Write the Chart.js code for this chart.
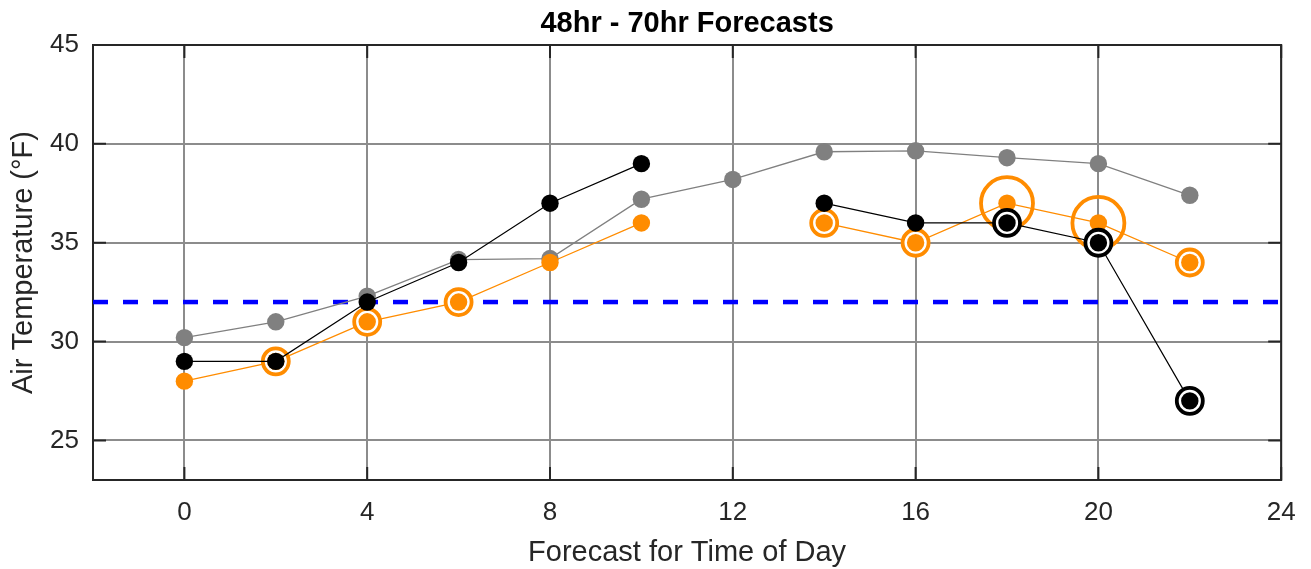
<!DOCTYPE html>
<html>
<head>
<meta charset="utf-8">
<script src="https://cdn.jsdelivr.net/npm/chart.js@4/dist/chart.umd.min.js"></script>
<style>
  html, body { margin: 0; padding: 0; background: #fff; }
  #wrap { width: 1311px; height: 569px; position: relative; }
</style>
</head>
<body>
<div id="wrap"><canvas id="c" width="1311" height="569"></canvas></div>
<script>
// ---------- data ----------
const hours = [0, 2, 4, 6, 8, 10, 12, 14, 16, 18, 20, 22];
const grayTemps = [30.2, 31.0, 32.3, 34.15, 34.2, 37.2, 38.2, 39.6, 39.65, 39.3, 39.0, 37.4];
const blackTemps = [29, 29, 32, 34, 37, 39, null, 37, 36, 36, 35, 27];
const orangeTemps = [28, 29, 31, 32, 34, 36, null, 36, 35, 37, 36, 34];
const orangeSmallRingHours = [2, 4, 6, 14, 16, 22];
const orangeLargeRingHours = [18, 20];
const blackRingHours = [18, 20, 22];
const freezingTemp = 32;
const xLimits = [-2, 24];
const yLimits = [23, 45];
const xTickValues = [0, 4, 8, 12, 16, 20, 24];
const yTickValues = [25, 30, 35, 40, 45];

const titleText = '48hr - 70hr Forecasts';
const xTitleText = 'Forecast for Time of Day';
const yTitleText = 'Air Temperature (\u00B0F)';

// ---------- helpers ----------
const series = (xs, ys) => xs.map((x, i) => ({ x: x, y: ys[i] }));
const ringPoints = (ringHours, ys) => ringHours.map(h => ({ x: h, y: ys[hours.indexOf(h)] }));

const FONT = "'Liberation Sans', Arial, Helvetica, sans-serif";
const AXIS_COLOR = '#262626';
const ORANGE = '#ff8c00';
const GRAY = '#808080';

const framePlugin = {
  id: 'frame',
  beforeDatasetsDraw(chart) {
    const { ctx, chartArea: { left, right, top, bottom }, scales: { x, y } } = chart;
    const tl = 13;
    ctx.save();
    ctx.strokeStyle = AXIS_COLOR;
    ctx.lineWidth = 2;
    ctx.beginPath();
    xTickValues.forEach(v => {
      const px = x.getPixelForValue(v);
      ctx.moveTo(px, bottom); ctx.lineTo(px, bottom - tl);
      ctx.moveTo(px, top); ctx.lineTo(px, top + tl);
    });
    yTickValues.forEach(v => {
      const py = y.getPixelForValue(v);
      ctx.moveTo(left, py); ctx.lineTo(left + tl, py);
      ctx.moveTo(right, py); ctx.lineTo(right - tl, py);
    });
    ctx.stroke();
    ctx.strokeRect(left, top, right - left, bottom - top);
    ctx.restore();
  },
  afterDraw(chart) {
    const { ctx, chartArea: { left, right } } = chart;
    ctx.save();
    ctx.fillStyle = '#000000';
    ctx.font = "bold 29px " + FONT;
    ctx.textAlign = 'center';
    ctx.textBaseline = 'middle';
    ctx.fillText(titleText, (left + right) / 2, 24);
    ctx.restore();
  }
};

const datasets = [
  { // freezing line
    data: [{ x: xLimits[0], y: freezingTemp }, { x: xLimits[1], y: freezingTemp }],
    showLine: true, borderColor: '#0000ff', borderWidth: 4.5, borderDash: [15, 15],
    pointRadius: 0, order: 10
  },
  { // gray series
    data: series(hours, grayTemps), showLine: true,
    borderColor: GRAY, borderWidth: 1.3,
    pointRadius: 8.7, pointBackgroundColor: GRAY, pointBorderWidth: 0, order: 9
  },
  { // orange line
    data: series(hours, orangeTemps), showLine: true, spanGaps: false,
    borderColor: ORANGE, borderWidth: 1.3, pointRadius: 0, order: 8
  },
  { // orange large rings
    data: ringPoints(orangeLargeRingHours, orangeTemps), showLine: false,
    pointRadius: 26, pointBorderWidth: 3.8, pointBorderColor: ORANGE,
    pointBackgroundColor: 'rgba(0,0,0,0)', order: 7.5
  },
  { // orange small rings
    data: ringPoints(orangeSmallRingHours, orangeTemps), showLine: false,
    pointRadius: 13, pointBorderWidth: 3.8, pointBorderColor: ORANGE,
    pointBackgroundColor: '#ffffff', order: 7
  },
  { // orange dots
    data: series(hours, orangeTemps), showLine: false,
    pointRadius: 8.7, pointBackgroundColor: ORANGE, pointBorderWidth: 0, order: 6
  },
  { // black line
    data: series(hours, blackTemps), showLine: true, spanGaps: false,
    borderColor: '#000000', borderWidth: 1.2, pointRadius: 0, order: 5
  },
  { // black rings
    data: ringPoints(blackRingHours, blackTemps), showLine: false,
    pointRadius: 13, pointBorderWidth: 3.8, pointBorderColor: '#000000',
    pointBackgroundColor: '#ffffff', order: 4
  },
  { // black dots
    data: series(hours, blackTemps), showLine: false,
    pointRadius: 8.7, pointBackgroundColor: '#000000', pointBorderWidth: 0, order: 3
  }
];

new Chart(document.getElementById('c'), {
  type: 'scatter',
  data: { datasets: datasets },
  options: {
    responsive: false,
    animation: false,
    events: [],
    layout: { padding: { left: 0, right: 26, top: 45, bottom: 0 } },
    plugins: {
      legend: { display: false },
      tooltip: { enabled: false },
      title: { display: false }
    },
    scales: {
      x: {
        type: 'linear', min: xLimits[0], max: xLimits[1],
        afterBuildTicks: s => { s.ticks = xTickValues.map(v => ({ value: v })); },
        afterFit: s => { s.height = 89; s.paddingLeft = 0; s.paddingRight = 0; },
        grid: { color: '#8c8c8c', lineWidth: 2, drawTicks: false },
        border: { display: false },
        ticks: { color: AXIS_COLOR, font: { family: FONT, size: 26, lineHeight: 1.2 }, padding: 17, maxRotation: 0 },
        title: { display: true, text: xTitleText, color: AXIS_COLOR,
                 font: { family: FONT, size: 29, lineHeight: 1.0 }, padding: { top: 0, bottom: 1.5 } }
      },
      y: {
        type: 'linear', min: yLimits[0], max: yLimits[1],
        afterBuildTicks: s => { s.ticks = yTickValues.map(v => ({ value: v })); },
        afterFit: s => { s.width = 93; s.paddingTop = 0; s.paddingBottom = 0; },
        grid: { color: '#8c8c8c', lineWidth: 2, drawTicks: false },
        border: { display: false },
        ticks: { color: AXIS_COLOR, font: { family: FONT, size: 26 }, padding: 14 },
        title: { display: true, text: yTitleText, color: AXIS_COLOR,
                 font: { family: FONT, size: 29, lineHeight: 1.0 }, padding: { top: 9.5, bottom: 0 } }
      }
    }
  },
  plugins: [framePlugin]
});
</script>
</body>
</html>
